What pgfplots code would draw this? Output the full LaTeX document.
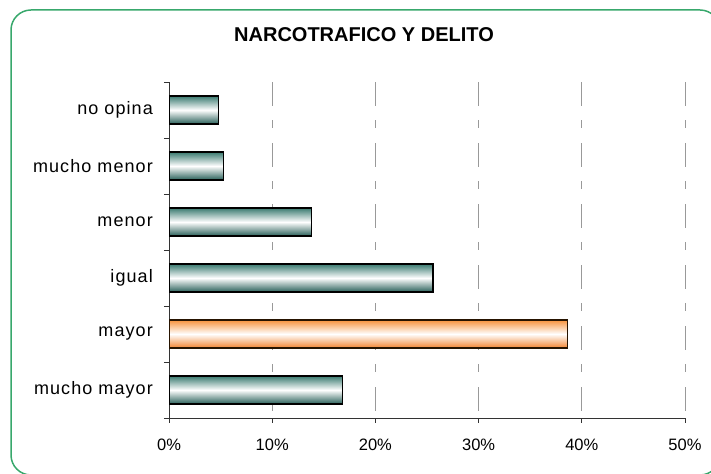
\documentclass[border=0pt]{standalone}
\usepackage{fontspec}
\setmainfont{Liberation Sans}
\newfontfamily\spaced[LetterSpace=6]{Liberation Sans}
\usepackage{pgfplots}
\pgfplotsset{compat=1.18}
\definecolor{frame}{RGB}{56,168,108}
\definecolor{tealE}{RGB}{58,122,112}
\definecolor{tealB}{RGB}{40,95,88}
\definecolor{orgE}{RGB}{247,146,60}
\definecolor{orgB}{RGB}{242,132,48}
\tikzset{
  tealbar/.style={draw=black, line width=1.5bp, top color=tealE, bottom color=tealB, middle color=white},
  orgbar/.style={draw=black!85!orange, line width=1.5bp, top color=orgE, bottom color=orgB, middle color=white},
}
\begin{document}
\begin{tikzpicture}
\useasboundingbox (0,0) rectangle (711bp,474bp);
\clip (0,0) rectangle (711bp,474bp);
\draw[frame, line width=1.5bp, rounded corners=20bp] (11bp,464bp) rectangle (720bp,-1bp);
\node[font=\bfseries\fontsize{20bp}{24bp}\selectfont] at (364bp,439bp) {NARCOTRAFICO Y DELITO};
\begin{axis}[
  at={(169bp,56bp)}, anchor=south west,
  scale only axis, width=516bp, height=336bp,
  xmin=0, xmax=50, ymin=-0.5, ymax=5.5,
  axis lines=left, axis line style={-, black!80, line width=0.9bp},
  tick align=outside,
  xtick={0,10,20,30,40,50},
  xticklabels={0\%,10\%,20\%,30\%,40\%,50\%},
  major tick length=5bp,
  tick style={black!80, line width=0.9bp},
  ytick={-0.5,0.5,1.5,2.5,3.5,4.5,5.5},
  yticklabels={},
  extra y ticks={0,1,2,3,4,5},
  extra y tick labels={mucho mayor,mayor,igual,menor,mucho menor,no opina},
  extra y tick style={major tick length=0pt, yticklabel style={font=\spaced\fontsize{18bp}{21bp}\selectfont, inner sep=0pt, anchor=east, xshift=-16bp}},
  xticklabel style={font=\fontsize{16.5bp}{19bp}\selectfont, inner sep=0pt, anchor=north, yshift=-16bp},
  xmajorgrids,
  major x grid style={black!40, line width=0.9bp, dash pattern=on 8bp off 14bp on 24bp off 15bp, dash phase=15bp},
  xbar, bar width=28bp, bar shift=0pt,
]
\addplot[tealbar] coordinates {(16.8,0)};
\addplot[orgbar]  coordinates {(38.6,1)};
\addplot[tealbar] coordinates {(25.6,2)};
\addplot[tealbar] coordinates {(13.8,3)};
\addplot[tealbar] coordinates {(5.3,4)};
\addplot[tealbar] coordinates {(4.8,5)};
\end{axis}
\end{tikzpicture}
\end{document}
